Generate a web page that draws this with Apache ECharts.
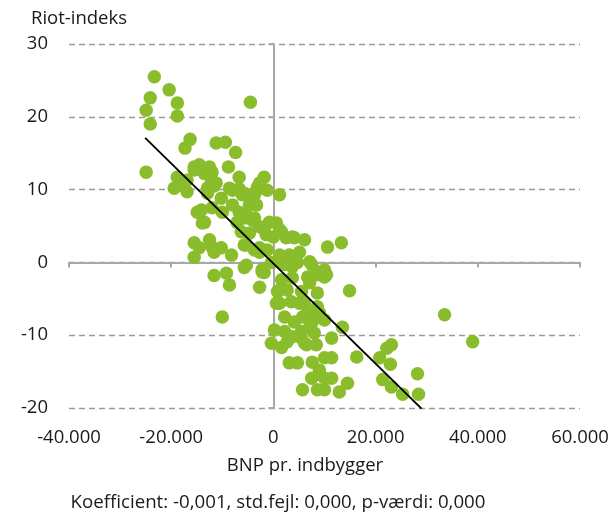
<!DOCTYPE html>
<html>
<head>
<meta charset="utf-8">
<script src="https://cdn.jsdelivr.net/npm/echarts@6/dist/echarts.min.js"></script>
<style>
html,body{margin:0;padding:0;background:#fff;}
#c{width:613px;height:515px;}
</style>
</head>
<body>
<div id="c"></div>
<script>
// ---- data ----
const xTicks = [-40000, -20000, 0, 20000, 40000, 60000];
const yTicks = [-20, -10, 0, 10, 20, 30];
const yAxisTitle = 'Riot-indeks';
const xAxisTitle = 'BNP pr. indbygger';
const footnote = 'Koefficient: -0,001, std.fejl: 0,000, p-værdi: 0,000';

const countries = [
  [-23300,25.5],[-20400,23.7],[-24100,22.6],[-18800,21.9],[-24900,20.9],[-18800,20.1],[-24100,19.0],[-4500,22.0],
  [-16300,16.9],[-17300,15.7],[-11200,16.4],[-9400,16.5],[-7400,15.1],[-24900,12.4],[-8800,13.1],
  [-15500,13.1],[-14500,13.4],[-12500,13.1],[-12000,12.4],[-13500,12.2],[-15500,12.7],
  [-18800,11.7],[-6700,11.7],[-16900,11.3],[-19400,10.2],[-16900,9.7],[-12900,10.2],[-11600,10.5],[-8600,10.2],
  [-3100,10.4],[-1800,11.7],[-5700,9.5],[-2700,10.9],[-3300,9.9],[-1200,9.9],[1200,9.3],
  [-12200,10.9],[-11200,10.9],[-17800,10.6],[-8000,9.9],[-6700,10.1],[-12900,9.5],[-10200,8.8],[-5100,9.3],[-4300,8.2],
  [-8000,7.9],[-14100,7.2],[-14900,6.9],[-12000,7.5],[-10000,6.9],[-6700,6.9],[-5300,6.5],[-3700,6.1],[-800,5.5],[1200,4.5],
  [-13500,5.5],[-7100,5.5],[-6300,4.2],[-4700,4.0],[-2700,4.9],[-1800,4.5],[0,3.5],[2500,3.4],[3700,3.5],
  [-15500,2.7],[-14500,2.0],[-12500,3.1],[-12000,2.1],[-10200,2.0],[-8200,1.0],[-15500,0.7],[-5700,2.4],[-3700,1.7],
  [-5300,-0.4],[-2700,1.4],[-1200,1.7],[1200,0.3],[3700,0.7],
  [-13900,5.4],[-11600,1.4],[-5700,-0.7],[-11600,-1.8],[-9200,-1.5],[-8600,-3.1],[-2200,-1.3],[-2700,-3.4],[-10000,-7.5],
  [-6100,9.3],[-3700,9.3],[-4700,7.9],[-3300,7.9],[-5700,6.1],[-4100,5.8],[600,5.4],[-1400,3.8],[1600,4.2],
  [4100,3.4],[6100,3.1],[-5300,2.4],[-2700,2.0],[10600,2.1],[13300,2.7],[1200,1.0],[3100,1.0],[5100,1.4],[7100,0.1],
  [-2200,-1.0],[1800,-0.1],[3700,-0.6],[8400,-1.3],[10000,-1.0],[10400,-1.7],
  [-400,0],[2200,-0.3],[4700,0],[7500,-0.3],[-1800,-1.4],[10000,-2.0],[1600,-2.4],[3700,-2.1],[6700,-2.0],[8600,-1.7],
  [14900,-3.9],[1200,-3.8],[7100,-2.8],[8600,-4.2],[800,-4.0],[2700,-3.8],[5500,-4.0],
  [600,-5.6],[3500,-5.4],[5100,-5.6],[1200,-5.6],[6100,-5.6],[8600,-6.1],[6700,-6.9],
  [2200,-7.5],[5700,-7.5],[8000,-7.6],[9000,-6.9],[4100,-8.2],[7600,-8.2],[10000,-7.9],[7100,-8.9],[13500,-8.9],
  [200,-9.3],[2200,-9.5],[5500,-9.5],[8000,-9.7],[-400,-11.1],[1600,-11.7],[3700,-10.2],[5500,-10.4],[2700,-10.9],
  [6100,-11.1],[6500,-11.3],[8400,-11.3],[11400,-10.4],[16300,-13.0],[3100,-13.8],[4700,-13.8],[7600,-13.7],
  [10000,-13.1],[11400,-13.1],[9000,-14.8],[7500,-15.9],[10000,-15.9],[11400,-15.9],[14500,-16.6],
  [5700,-17.5],[8600,-17.5],[10000,-17.5],[12900,-17.8],
  [33500,-7.2],[39000,-10.9],[20800,-13.1],[22200,-11.8],[23100,-11.3],[22900,-14.0],[21400,-16.1],
  [23100,-17.1],[25300,-18.1],[28200,-15.3],[28400,-18.1]
];
const trendLine = [[-25100,17.1],[29000,-20.1]];

// ---- chart ----
const FONT = '"Open Sans", "Noto Sans", sans-serif';
const TXT = '#1a1a1a';
const fmtX = v => v === 0 ? '0' : (v < 0 ? '-' : '') + (Math.abs(v) / 1000) + '.000';
const xMin = xTicks[0], xMax = xTicks[xTicks.length - 1], xInt = xTicks[1] - xTicks[0];
const yMin = yTicks[0], yMax = yTicks[yTicks.length - 1], yInt = yTicks[1] - yTicks[0];

const chart = echarts.init(document.getElementById('c'), null, {renderer: 'canvas'});
chart.setOption({
  animation: false,
  textStyle: {fontFamily: FONT},
  grid: {left: 69, right: 33, top: 44, bottom: 107, containLabel: false},
  xAxis: [
    {type: 'value', min: xMin, max: xMax, interval: xInt, position: 'bottom',
     axisLine: {show: false, onZero: false}, axisTick: {show: false}, splitLine: {show: false},
     axisLabel: {formatter: fmtX, fontSize: 18.5, color: TXT, fontFamily: FONT, margin: 20}},
    {type: 'value', min: xMin, max: xMax, interval: xInt, position: 'bottom',
     axisLine: {show: true, onZero: true, lineStyle: {color: '#a8a8a8', width: 2}},
     axisTick: {show: true, length: 5, lineStyle: {color: '#a8a8a8', width: 2}},
     axisLabel: {show: false}, splitLine: {show: false}}
  ],
  yAxis: [
    {type: 'value', min: yMin, max: yMax, interval: yInt, position: 'left',
     axisLine: {show: false, onZero: false}, axisTick: {show: false},
     splitLine: {show: true, lineStyle: {color: '#9a9a9a', width: 1.3, type: [6, 4]}},
     axisLabel: {fontSize: 18.5, color: TXT, fontFamily: FONT, margin: 21}},
    {type: 'value', min: yMin, max: yMax, interval: yInt, position: 'left',
     axisLine: {show: true, onZero: true, lineStyle: {color: '#a8a8a8', width: 2}},
     axisTick: {show: true, length: 5, lineStyle: {color: '#a8a8a8', width: 2}},
     axisLabel: {show: false}, splitLine: {show: false}}
  ],
  series: [
    {type: 'scatter', xAxisIndex: 0, yAxisIndex: 0, data: countries, symbolSize: 13.5,
     itemStyle: {color: '#8abd2b', opacity: 1}, z: 3},
    {type: 'line', xAxisIndex: 0, yAxisIndex: 0, data: trendLine, symbol: 'none',
     lineStyle: {color: '#000', width: 1.8}, z: 4}
  ],
  graphic: [
    {type: 'text', left: 31, top: 9, style: {text: yAxisTitle, fontSize: 18.5, fill: TXT, fontFamily: FONT}},
    {type: 'text', x: 305, y: 466, style: {text: xAxisTitle, fontSize: 18.5, fill: TXT, fontFamily: FONT, textAlign: 'center', textVerticalAlign: 'middle'}},
    {type: 'text', x: 278, y: 503, style: {text: footnote, fontSize: 18.7, fill: TXT, fontFamily: FONT, textAlign: 'center', textVerticalAlign: 'middle'}}
  ]
});
</script>
</body>
</html>
